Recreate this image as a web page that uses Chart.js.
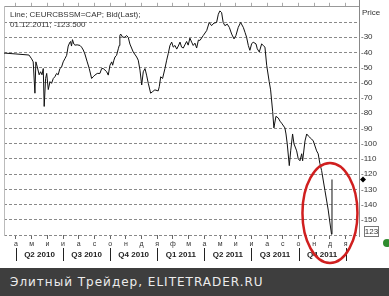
<!DOCTYPE html>
<html>
<head>
<meta charset="utf-8">
<script src="https://cdn.jsdelivr.net/npm/chart.js@4.4.0/dist/chart.umd.min.js"></script>
<style>
  html, body { margin: 0; padding: 0; background: #fff; }
  #wrap { width: 389px; height: 296px; overflow: hidden; }
  canvas { display: block; }
  #band { height: 28px; background: #3e3e3e; color: #ececec; font: 12px "DejaVu Sans", sans-serif; letter-spacing: 1px; line-height: 28px; padding-left: 10px; white-space: nowrap; }
</style>
</head>
<body>
<div id="wrap">
<canvas id="grafico" width="389" height="268"></canvas>
<div id="band">Элитный Трейдер, ELITETRADER.RU</div>
</div>
<script>
// posicion en meses desde abril 2010 (0 = 01.04.2010)
const meses = [-0.76, 0, 0.83, 1.0, 1.10, 1.21, 1.27, 1.36, 1.48, 1.57, 1.66, 1.74, 1.80, 1.89, 1.96, 2.06, 2.17, 2.27, 2.38, 2.48,
  2.59, 2.69, 2.80, 2.91, 3.01, 3.12, 3.23, 3.33, 3.44, 3.48, 3.54, 3.60, 3.69, 3.76, 3.90, 4.08, 4.18, 4.29, 4.39, 4.54,
  4.67, 4.82, 4.92, 5.03, 5.18, 5.35, 5.46, 5.56, 5.67, 5.78, 5.88, 5.99, 6.10, 6.16, 6.24, 6.31, 6.41, 6.52, 6.58, 6.62,
  6.67, 6.80, 6.94, 7.05, 7.15, 7.26, 7.47, 7.69, 7.79, 7.90, 8.01, 8.11, 8.22, 8.32, 8.43, 8.58, 8.71, 8.85, 9.06, 9.13,
  9.22, 9.34, 9.49, 9.60, 9.70, 9.81, 9.92, 10.02, 10.13, 10.24, 10.34, 10.45, 10.55, 10.66, 10.76, 10.87, 10.97, 11.08, 11.19, 11.29,
  11.40, 11.51, 11.62, 11.72, 11.93, 12.15, 12.31, 12.46, 12.61, 12.78, 12.89, 12.99, 13.10, 13.20, 13.31, 13.46, 13.59, 13.74, 13.89, 14.01,
  14.16, 14.31, 14.48, 14.59, 14.69, 14.80, 14.90, 15.01, 15.11, 15.29, 15.37, 15.50, 15.65, 15.75, 15.86, 15.97, 16.13, 16.22, 16.35, 16.43,
  16.56, 16.71, 16.82, 16.92, 17.13, 17.20, 17.28, 17.41, 17.50, 17.62, 17.71, 17.88, 17.98, 18.09, 18.20, 18.26, 18.41, 18.52, 18.62, 18.73,
  18.83, 18.94, 19.15, 19.25, 19.36, 19.47, 19.68, 19.89, 20.00, 20.10, 20.13];

const precios = [-40.4, -41.0, -41.7, -44.2, -46.2, -66.8, -46.2, -49.5, -54.7, -52.7, -54.7, -50.6, -75.5, -57.1, -53.8, -64.4, -59.2, -60.3, -57.1, -56.0,
  -53.8, -54.7, -50.6, -49.5, -46.2, -44.1, -41.9, -35.8, -33.2, -32.8, -35.8, -31.6, -34.5, -35.2, -35.0, -35.4, -36.5, -38.4, -41.0, -46.2,
  -50.6, -57.1, -56.0, -54.9, -53.8, -53.8, -50.6, -50.6, -51.6, -52.7, -54.9, -48.4, -46.2, -48.4, -45.1, -43.0, -41.9, -37.6, -35.4, -28.9,
  -27.9, -30.0, -30.0, -28.9, -30.0, -34.5, -39.7, -43.0, -45.1, -51.6, -61.4, -52.7, -50.6, -54.9, -60.3, -66.8, -65.7, -64.6, -65.3, -62.5,
  -56.0, -57.1, -50.6, -45.1, -40.8, -35.4, -33.2, -36.5, -35.4, -37.8, -35.8, -33.2, -36.5, -37.1, -35.0, -32.8, -35.2, -30.6, -33.2, -35.4,
  -33.9, -37.1, -31.9, -32.1, -28.9, -25.6, -20.3, -22.4, -20.7, -20.3, -14.9, -12.7, -13.8, -20.3, -22.4, -21.4, -23.5, -27.9, -31.1, -28.9,
  -23.5, -20.3, -23.5, -26.8, -30.0, -35.4, -38.6, -34.4, -33.2, -34.4, -37.6, -39.7, -34.4, -35.4, -36.5, -48.4, -59.2, -64.6, -78.7, -89.6,
  -82.0, -83.1, -85.2, -86.5, -89.6, -93.6, -100.1, -114.4, -104.7, -93.6, -100.1, -104.7, -109.9, -111.2, -106.6, -111.2, -98.2, -93.6, -94.9, -96.0,
  -96.9, -98.2, -104.7, -106.6, -113.1, -117.7, -130.7, -143.6, -152.1, -159.5, -123.5];

const letrasMes = ["а", "м", "и", "и", "а", "с", "о", "н", "д", "я", "ф", "м", "а", "м", "и", "и", "а", "с", "о", "н", "д", "я"];
const trimestres = ["Q2 2010", "Q3 2010", "Q4 2010", "Q1 2011", "Q2 2011", "Q3 2011", "Q4 2011"];
const inicioTrimestre = [0, 3, 6, 9, 12, 15, 18, 21];

const ultimoValor = -123.5;
const titulo1 = "Line; CEURCBSSM=CAP; Bid(Last);";
const titulo2 = "01.12.2011; -123.500";
const cajaTexto = "123";

const fuente = '"Liberation Sans", Arial, sans-serif';

const ticksMes = (s) => { s.ticks = letrasMes.map((_, i) => ({ value: i })); };

const extras = {
  id: "extras",
  afterDraw(chart) {
    const ctx = chart.ctx;
    const x = chart.scales.x;
    const y = chart.scales.y;
    const area = chart.chartArea;
    ctx.save();

    // eje derecho continuo
    ctx.strokeStyle = "#888";
    ctx.lineWidth = 1;
    ctx.beginPath();
    ctx.moveTo(area.right + 0.5, 0);
    ctx.lineTo(area.right + 0.5, area.bottom + 2);
    ctx.stroke();

    // texto arriba a la izquierda
    ctx.fillStyle = "#333";
    ctx.font = "8px " + fuente;
    ctx.textBaseline = "middle";
    ctx.textAlign = "left";
    ctx.fillText(titulo1, 10, 15);
    ctx.fillText(titulo2, 10, 25);

    // "Price"
    ctx.fillText("Price", area.right + 3, 13);

    // rombo del ultimo valor
    const yu = y.getPixelForValue(ultimoValor);
    ctx.fillStyle = "#000";
    ctx.beginPath();
    ctx.moveTo(area.right + 4, yu - 3);
    ctx.lineTo(area.right + 7, yu);
    ctx.lineTo(area.right + 4, yu + 3);
    ctx.lineTo(area.right + 1, yu);
    ctx.closePath();
    ctx.fill();

    // cajita 123
    ctx.strokeStyle = "#777";
    ctx.fillStyle = "#fff";
    ctx.fillRect(area.right + 5.5, area.bottom - 8.5, 14, 10);
    ctx.strokeRect(area.right + 5.5, area.bottom - 8.5, 14, 10);
    ctx.fillStyle = "#333";
    ctx.textAlign = "center";
    ctx.fillText(cajaTexto, area.right + 12.5, area.bottom - 3);

    // trimestres
    ctx.font = "bold 8px " + fuente;
    ctx.fillStyle = "#222";
    ctx.strokeStyle = "#222";
    for (let i = 0; i < trimestres.length; i++) {
      const a = x.getPixelForValue(inicioTrimestre[i]);
      const b = x.getPixelForValue(inicioTrimestre[i + 1]);
      ctx.fillText(trimestres[i], (a + b) / 2, area.bottom + 20);
    }
    inicioTrimestre.forEach((m) => {
      const px = Math.round(x.getPixelForValue(m)) + 0.5;
      ctx.beginPath();
      ctx.moveTo(px, area.bottom + 13);
      ctx.lineTo(px, area.bottom + 26);
      ctx.stroke();
    });

    // punto verde
    ctx.fillStyle = "#2e8b2e";
    ctx.beginPath();
    ctx.arc(387, area.bottom + 8, 4, 0, Math.PI * 2);
    ctx.fill();

    // elipse roja
    const cx = x.getPixelForValue(20.0);
    const cy = y.getPixelForValue(-145.5);
    ctx.strokeStyle = "#d01f1f";
    ctx.lineWidth = 2.5;
    ctx.beginPath();
    ctx.ellipse(cx, cy, 27.5, 50, 0, 0, Math.PI * 2);
    ctx.stroke();

    ctx.restore();
  }
};

const config = {
  type: "line",
  data: {
    datasets: [{
      data: meses.map((m, i) => ({ x: m, y: precios[i] })),
      borderColor: "#111",
      borderWidth: 1,
      pointRadius: 0,
      tension: 0,
      fill: false
    }]
  },
  options: {
    responsive: false,
    animation: false,
    devicePixelRatio: 1,
    layout: { padding: 0 },
    plugins: { legend: { display: false }, tooltip: { enabled: false } },
    scales: {
      x: {
        type: "linear",
        position: "bottom",
        min: -0.76,
        max: 21.85,
        afterBuildTicks: ticksMes,
        afterFit: (s) => { s.height = 33; },
        ticks: {
          autoSkip: false,
          maxRotation: 0,
          padding: 1,
          color: "#333",
          font: { size: 7, family: fuente },
          callback: (v) => letrasMes[v] || ""
        },
        grid: { drawOnChartArea: false, tickLength: 4, color: "#666" },
        border: { display: false }
      },
      xt: {
        type: "linear",
        position: "top",
        min: -0.76,
        max: 21.85,
        afterBuildTicks: ticksMes,
        afterFit: (s) => { s.height = 4; },
        ticks: { display: false },
        grid: { drawOnChartArea: false, tickLength: 4, color: "#aaa" },
        border: { display: true, color: "#999" }
      },
      y: {
        position: "right",
        min: -160,
        max: -10,
        afterFit: (s) => { s.width = 30; },
        ticks: {
          stepSize: 10,
          padding: 2,
          color: "#333",
          font: { size: 8, family: fuente },
          callback: (v) => (v <= -30 && v >= -150 ? String(v) : "")
        },
        grid: {
          drawTicks: false,
          color: (c) => (c.tick && c.tick.value === -10 ? "rgba(0,0,0,0)" : "#8a8a8a"),
          lineWidth: 1
        },
        border: { display: false, dash: [3, 2] }
      },
      yl: {
        position: "left",
        afterFit: (s) => { s.width = 4; },
        ticks: { display: false },
        grid: { display: false },
        border: { display: true, color: "#bbb" }
      }
    }
  },
  plugins: [extras]
};

new Chart(document.getElementById("grafico"), config);
</script>
</body>
</html>
